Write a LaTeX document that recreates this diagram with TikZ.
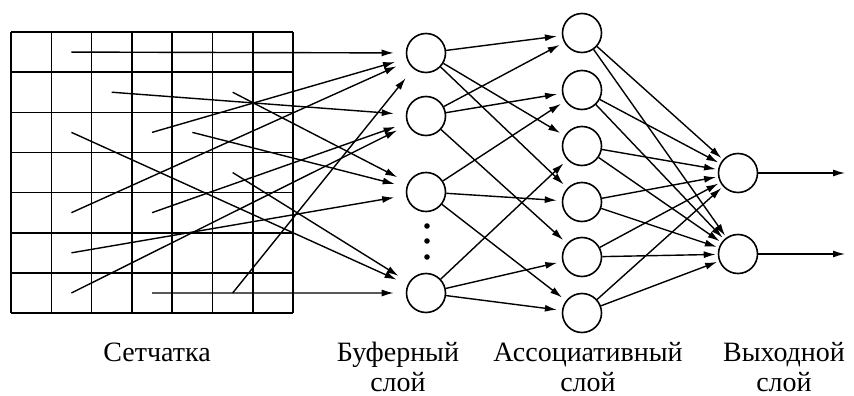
\documentclass[tikz,border=0pt]{standalone}
\usepackage{fontspec}
\setmainfont{Liberation Serif}
\usetikzlibrary{arrows.meta}

\begin{document}
\begin{tikzpicture}[x=1pt,y=-1pt,>={Latex[length=12pt,width=7pt]},
  neuron/.style={circle,draw,line width=1.6pt,minimum size=39pt,inner sep=0pt},
  link/.style={->,line width=1.4pt},
  caption/.style={font=\fontsize{28}{30}\selectfont,align=center,anchor=base,inner sep=0pt}]

  \useasboundingbox (0,0) rectangle (854,396);

  % Сетчатка 7x7
  \def\cw{40.3}
  \def\ch{40.15}
  \foreach \i in {0,...,7}{
    \draw[line width=1.6pt] ({11+\i*\cw},32) -- ({11+\i*\cw},313);
    \draw[line width=1.6pt] (11,{32+\i*\ch}) -- (293,{32+\i*\ch});
  }
  \foreach \i in {0,...,6}
    \foreach \j in {0,...,6}
      \coordinate (c\i\j) at ({11+(\i+0.5)*\cw},{32+(\j+0.5)*\ch});

  % Буферный слой
  \node[neuron] (b1) at (426,53) {};
  \node[neuron] (b2) at (426,116) {};
  \node[neuron] (b3) at (426,192) {};
  \node[neuron] (b4) at (426,293) {};
  \foreach \y in {226,241,257}
    \fill (427,\y) circle (2.8pt);

  % Ассоциативный слой
  \foreach \n/\y in {1/33,2/90,3/146,4/202,5/257,6/313}
    \node[neuron] (a\n) at (582,\y) {};

  % Выходной слой
  \node[neuron] (o1) at (738,173) {};
  \node[neuron] (o2) at (738,254) {};
  \coordinate (e1) at (845,173);
  \coordinate (e2) at (845,254);

  % связи
  \foreach \c/\b in {c10/b1,c21/b2,c51/b3,c32/b1,c14/b1,c12/b4,c42/b3,
                     c34/b2,c53/b4,c15/b3,c16/b2,c56/b1,c36/b4}
    \draw[link,shorten >=12pt] (\c) -- (\b);
  \foreach \b/\a in {b1/a1,b1/a3,b1/a4,b2/a1,b2/a2,b2/a5,
                     b3/a2,b3/a4,b3/a6,b4/a3,b4/a5,b4/a6}
    \draw[link,shorten >=5pt] (\b) -- (\a);
  \foreach \a in {1,...,6}
    \foreach \o in {1,2}
      \draw[link,shorten >=2pt] (a\a) -- (o\o);
  \draw[link] (o1) -- (e1);
  \draw[link] (o2) -- (e2);

  % подписи
  \node[caption] (t1) at (157,361) {Сетчатка};
  \node[caption] (t2) at (398,391) {Буферный\\слой};
  \node[caption] (t3) at (588,391) {Ассоциативный\\слой};
  \node[caption] (t4) at (784,391) {Выходной\\слой};

\end{tikzpicture}
\end{document}
